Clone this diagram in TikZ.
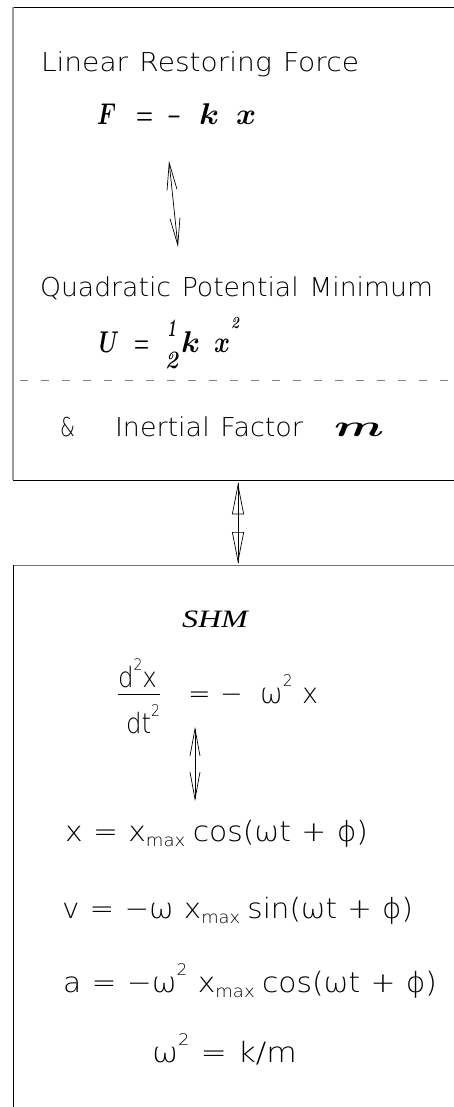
\RequirePackage{fix-cm}
\documentclass[tikz,border=0pt]{standalone}
\usepackage{graphicx}
\usepackage{fontspec}
\usetikzlibrary{arrows.meta}
\newfontfamily\hfont{DejaVu Sans ExtraLight}
\newfontfamily\serfont{Liberation Serif}
\newcommand{\fitw}[2]{\resizebox{#1}{\height}{#2}}
\newcommand{\gp}{\hspace{0.35em}}
\newcommand{\sqr}{\raisebox{0.6em}{\fontsize{16}{16}\selectfont 2}}
\newcommand{\mxs}{\raisebox{-0.2em}{\fontsize{17}{17}\selectfont max}}
\newcommand{\om}{ω}
\newcommand{\ph}{ϕ}
\tikzset{
  txt/.style={inner sep=0pt, outer sep=0pt, anchor=base west},
  lbl/.style={txt, font=\hfont\fontsize{26}{28}\selectfont},
  bm/.style={txt, font=\fontsize{30}{32}\selectfont\boldmath},
  bmd/.style={txt, font=\fontsize{25}{27}\selectfont\bfseries\itshape},
  eqn/.style={txt, font=\hfont\fontsize{28}{30}\selectfont},
  boxnode/.style={draw=none, inner sep=0pt, anchor=north west, minimum width=470pt},
  edgeblack/.style={black, line width=0.8pt},
  edgegray/.style={gray!80, line width=1.6pt},
  edgethin/.style={gray!90!black, line width=0.7pt},
  sep/.style={gray, line width=0.8pt, dash pattern=on 8pt off 13pt},
  barb/.style={line width=0.7pt, {Straight Barb[length=27pt,width=10pt]}-{Straight Barb[length=27pt,width=10pt]}},
  tri/.style={line width=0.7pt, {Triangle[open,length=31pt,width=12pt]}-{Triangle[open,length=31pt,width=12pt]}}
}
\begin{document}
\begin{tikzpicture}[x=1pt,y=-1pt]
\useasboundingbox (0,0) rectangle (454,1107);
% boxes
\node[boxnode, minimum height=473pt] (box1) at (13,7) {};
\node[boxnode, minimum height=600pt] (box2) at (13,565) {};
\draw[edgeblack] (box1.north west) -- (box1.north east);
\draw[edgeblack] (box1.south west) -- (box1.south east);
\draw[edgegray] (box1.north west) -- (box1.south west);
\draw[edgethin] (box2.north west) -- (box2.north east);
\draw[edgeblack] (box2.north west) -- (box2.south west);
% upper box
\node[lbl] (l1) at (41,72) {\fitw{318pt}{Linear\hspace{0.4em}Restoring\hspace{0.4em}Force}};
\node[bm] (fF) at (97,125) {\fitw{19pt}{$F$}};
\node[bm] (fEq) at (136,125) {\fitw{17pt}{$=$}};
\node[bm] (fMin) at (167,125) {\fitw{14pt}{$-$}};
\node[bm] (fk) at (199,125) {\fitw{20pt}{$k$}};
\node[bm] (fx) at (236,125) {\fitw{20pt}{$x$}};
\coordinate (a1s) at (169,161);
\coordinate (a1e) at (178,247);
\draw[barb] (a1s) -- (a1e);
\node[lbl] (l2) at (40,296) {\fitw{393pt}{Quadratic\hspace{0.4em}Potential\hspace{0.4em}Minimum}};
\node[bm] (uU) at (99,352) {\fitw{20pt}{$U$}};
\node[bm] (uEq) at (134,352) {\fitw{15pt}{$=$}};
\node[bmd] (u1) at (167,336) {\fitw{9pt}{1}};
\node[bmd] (u2) at (165,368) {\fitw{13pt}{2}};
\node[bm] (uk) at (181,352) {\fitw{19pt}{$k$}};
\node[bm] (ux) at (214,352) {\fitw{16pt}{$x$}};
\node[txt, font=\fontsize{17}{17}\selectfont\bfseries\itshape] (ux2) at (231,328) {\fitw{8pt}{2}};
\draw[sep] (20,380) -- (454,380);
\node[lbl] (amp) at (60,436) {\fitw{15pt}{\&}};
\node[lbl] (l3) at (115,436) {\fitw{188pt}{Inertial\hspace{0.4em}Factor}};
\node[txt, font=\fontsize{30}{32}\selectfont\boldmath] (mm) at (334,436) {\fitw{50pt}{$m$}};
% connector between boxes
\coordinate (a3s) at ([xshift=225pt,yshift=-3pt]box1.south west);
\coordinate (a3e) at ([xshift=225pt,yshift=2pt]box2.north west);
\draw[line width=0.7pt] (a3s) -- (a3e);
\draw[tri] (a3s) -- (a3e);
% lower box
\node[txt, font=\serfont\itshape\fontsize{25}{27}\selectfont] (shm) at (182,627) {\fitw{66pt}{SHM}};
\node[eqn] (num) at (118,687) {\fitw{39pt}{d\sqr x}};
\node[eqn] (den) at (126,733) {\fitw{34pt}{dt\sqr}};
\draw[line width=0.7pt] (118,694) -- (160,694);
\node[eqn] (rhs) at (188,703) {\fitw{130pt}{=\gp −\gp\hspace{0.3em}\om\sqr\gp x}};
\coordinate (a2s) at (195,727);
\coordinate (a2e) at (195,801);
\draw[barb] (a2s) -- (a2e);
\node[eqn] (eqx) at (65,841) {\fitw{303pt}{x\gp=\gp x\mxs\hspace{0.25em}cos(\om t\gp +\gp \ph)}};
\node[eqn] (eqv) at (62,918) {\fitw{351pt}{v\gp=\gp −\om\gp x\mxs\hspace{0.25em}sin(\om t\gp +\gp \ph)}};
\node[eqn] (eqa) at (63,992) {\fitw{374pt}{a\gp=\gp −\om\sqr\gp x\mxs\hspace{0.25em}cos(\om t\gp +\gp \ph)}};
\node[eqn] (eqw) at (152,1062) {\fitw{145pt}{\om\sqr\gp=\gp k/m}};
\end{tikzpicture}
\end{document}
